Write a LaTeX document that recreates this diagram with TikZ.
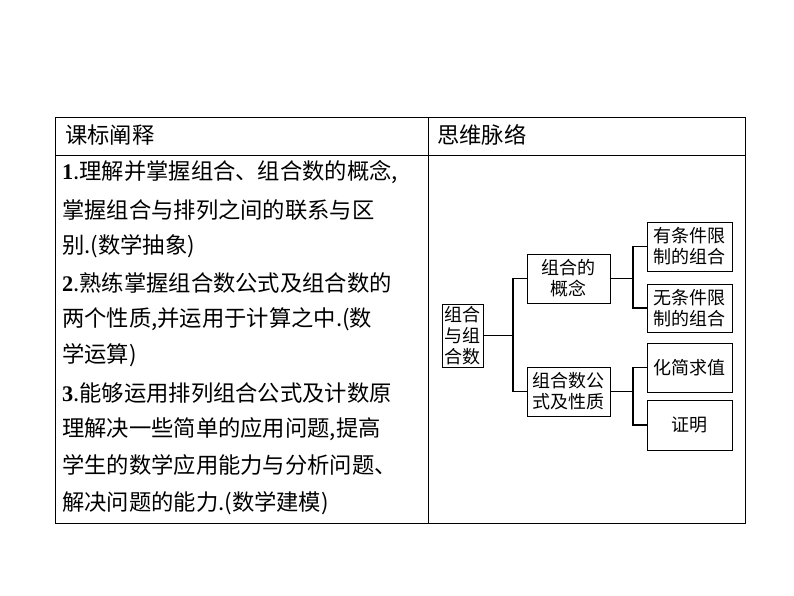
\documentclass[tikz,border=0pt]{standalone}
\usepackage{fontspec}
\setmainfont{Noto Sans CJK SC}
\newfontfamily\lat{Liberation Serif}
\begin{document}
\begin{tikzpicture}[x=1pt,y=-1pt,
  line/.style={anchor=west,inner sep=0pt,font=\fontsize{22.3}{24}\selectfont},
  bx/.style={draw,line width=1pt,inner sep=0pt,align=center,font=\fontsize{18}{21}\selectfont},
  cn/.style={line width=1.2pt}]
\useasboundingbox (0,0) rectangle (794,596);
\draw[line width=0.8pt] (55,117) rectangle (745,523);
\draw[line width=0.8pt] (55,155) -- (745,155);
\draw[line width=0.8pt] (428,117) -- (428,523);
\node[line] (h1) at (65,135) {课标阐释};
\node[line] (h2) at (437,135) {思维脉络};
\node[line] (l1) at (62,172) {{\lat\bfseries 1}.理解并掌握组合、组合数的概念,};
\node[line] (l2) at (62,210) {掌握组合与排列之间的联系与区};
\node[line] (l3) at (62,246) {别.(数学抽象)};
\node[line] (l4) at (62,283) {{\lat\bfseries 2}.熟练掌握组合数公式及组合数的};
\node[line] (l5) at (62,319) {两个性质,并运用于计算之中.(数};
\node[line] (l6) at (62,355) {学运算)};
\node[line] (l7) at (62,393) {{\lat\bfseries 3}.能够运用排列组合公式及计数原};
\node[line] (l8) at (62,429) {理解决一些简单的应用问题,提高};
\node[line] (l9) at (62,465) {学生的数学应用能力与分析问题、};
\node[line] (l10) at (62,503) {解决问题的能力.(数学建模)};
\node[bx,minimum width=41,minimum height=63] (a) at (462.5,335.5) {组合\\与组\\合数};
\node[bx,minimum width=83,minimum height=49] (b) at (568.5,278.5) {组合的\\概念};
\node[bx,minimum width=83,minimum height=49] (c) at (568.5,391.5) {组合数公\\式及性质};
\node[bx,minimum width=85,minimum height=49] (d) at (689.5,246.5) {有条件限\\制的组合};
\node[bx,minimum width=85,minimum height=48] (e) at (689.5,308) {无条件限\\制的组合};
\node[bx,minimum width=85,minimum height=49] (f) at (689.5,367.5) {化简求值};
\node[bx,minimum width=85,minimum height=50] (g) at (689.5,425) {证明};
\coordinate (j1) at (513,335.5);
\coordinate (j2) at (633,278.5);
\coordinate (j3) at (633,391.5);
\draw[cn] (a.east) -- (j1);
\draw[cn] (b.west) -| (j1) |- (c.west);
\draw[cn] (b.east) -- (j2);
\draw[cn] (d.west) -| (j2) |- (e.west);
\draw[cn] (c.east) -- (j3);
\draw[cn] (f.west) -| (j3) |- (g.west);
\end{tikzpicture}
\end{document}
